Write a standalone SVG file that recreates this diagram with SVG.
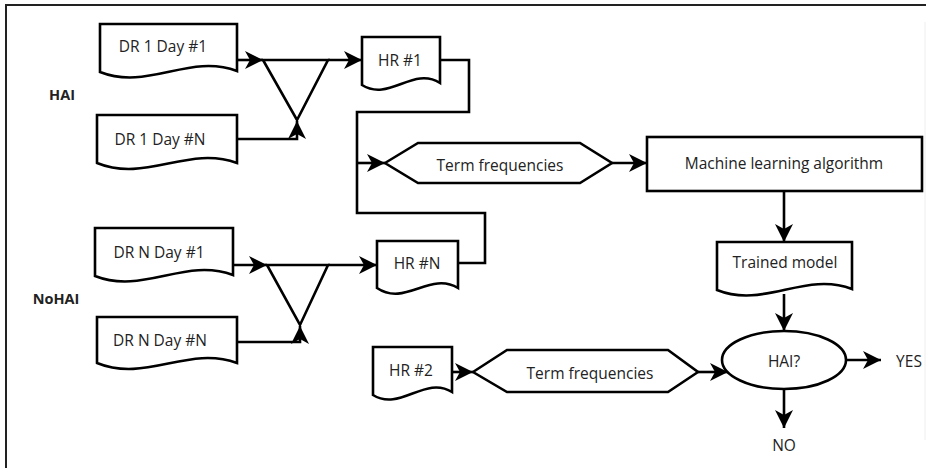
<svg xmlns="http://www.w3.org/2000/svg" width="946" height="468" viewBox="0 0 946 468">
<style>
.s{fill:#fff;stroke:#000;stroke-width:2.6;stroke-linejoin:miter}
.c{fill:none;stroke:#000;stroke-width:2.6}
.t{font-family:"Open Sans","Noto Sans",sans-serif;font-size:15.5px;fill:#222;text-anchor:middle;dominant-baseline:central}
.b{font-family:"Open Sans","Noto Sans",sans-serif;font-size:14.5px;font-weight:bold;fill:#222;text-anchor:middle;dominant-baseline:central}
</style>
<defs>
<marker id="ah" markerUnits="userSpaceOnUse" markerWidth="20" markerHeight="20" refX="18" refY="9" orient="auto" viewBox="0 0 20 18">
<path d="M0,0 L18,9 L0,18 L5,9 Z" fill="#000"/>
</marker>
</defs>
<rect x="0" y="0" width="946" height="468" fill="#fff"/>
<path d="M6,470 V5 H926" fill="none" stroke="#222" stroke-width="2"/>
<line x1="925" y1="22" x2="925" y2="440" stroke="#eee" stroke-width="1"/>

<g id="label-hai"><text class="b" x="62" y="94">HAI</text></g>
<g id="label-nohai"><text class="b" x="56" y="298">NoHAI</text></g>

<g id="connectors">
<line class="c" x1="237" y1="60" x2="263" y2="60" marker-end="url(#ah)"/>
<line class="c" x1="328" y1="60" x2="362" y2="60" marker-end="url(#ah)"/>
<path class="c" d="M237,139 H297 V121" marker-end="url(#ah)"/>
<path class="c" d="M440,60 H469 V112 H357 V163"/>
<path class="c" d="M458,263 H485 V213 H357 V163"/>
<line class="c" x1="356" y1="163" x2="385" y2="163" marker-end="url(#ah)"/>
<line class="c" x1="233" y1="265" x2="267" y2="265" marker-end="url(#ah)"/>
<line class="c" x1="328" y1="265" x2="377" y2="265" marker-end="url(#ah)"/>
<path class="c" d="M237,342 H300 V326" marker-end="url(#ah)"/>
<line class="c" x1="612" y1="163" x2="647" y2="163" marker-end="url(#ah)"/>
<line class="c" x1="784" y1="191" x2="784" y2="242" marker-end="url(#ah)"/>
<line class="c" x1="784" y1="294" x2="784" y2="331" marker-end="url(#ah)"/>
<line class="c" x1="452" y1="372" x2="473" y2="372" marker-end="url(#ah)"/>
<line class="c" x1="698" y1="372" x2="728" y2="372" marker-end="url(#ah)"/>
<line class="c" x1="846" y1="360" x2="881" y2="360" marker-end="url(#ah)"/>
<line class="c" x1="784" y1="389" x2="784" y2="428" marker-end="url(#ah)"/>
</g>

<g id="dr1-day1">
<path class="s" d="M100,24 H237 V71 C189,53 148,91 100,72 Z"/>
<text class="t" x="163" y="46">DR 1 Day #1</text>
</g>
<g id="dr1-dayn">
<path class="s" d="M97,115 H237 V163 C188,145 146,183 97,163 Z"/>
<text class="t" x="160" y="139">DR 1 Day #N</text>
</g>
<g id="merge1">
<polygon class="s" points="263,60 328,60 297,120" style="fill:none"/>
</g>
<g id="hr1">
<path class="s" d="M362,37 H440 V83 C413,66 389,102 362,85 Z"/>
<text class="t" x="400" y="60">HR #1</text>
</g>
<g id="hex1">
<polygon class="s" points="385,163 418,143 580,143 612,163 580,183 418,183"/>
<text class="t" x="500" y="165">Term frequencies</text>
</g>
<g id="ml">
<rect class="s" x="647" y="137" width="275" height="54"/>
<text class="t" x="784" y="163">Machine learning algorithm</text>
</g>
<g id="trained">
<path class="s" d="M717,242 H852 V289 C805,271 764,309 717,290 Z"/>
<text class="t" x="785" y="262">Trained model</text>
</g>
<g id="drn-day1">
<path class="s" d="M95,228 H233 V275 C185,257 143,295 95,276 Z"/>
<text class="t" x="159" y="252">DR N Day #1</text>
</g>
<g id="drn-dayn">
<path class="s" d="M97,317 H237 V363 C188,345 146,383 97,363 Z"/>
<text class="t" x="160" y="340">DR N Day #N</text>
</g>
<g id="merge2">
<polygon class="s" points="267,265 328,265 300,325" style="fill:none"/>
</g>
<g id="hrn">
<path class="s" d="M377,241 H458 V288 C430,271 405,307 377,288 Z"/>
<text class="t" x="417" y="263">HR #N</text>
</g>
<g id="hr2">
<path class="s" d="M373,347 H452 V392 C425,375 400,412 373,395 Z"/>
<text class="t" x="411" y="370">HR #2</text>
</g>
<g id="hex2">
<polygon class="s" points="473,372 507,350 668,350 698,372 668,392 507,392"/>
<text class="t" x="590" y="373">Term frequencies</text>
</g>
<g id="decision">
<ellipse class="s" cx="784" cy="360" rx="62" ry="29"/>
<text class="t" x="784" y="361">HAI?</text>
</g>
<g id="yes"><text class="t" x="909" y="361">YES</text></g>
<g id="no"><text class="t" x="784" y="445">NO</text></g>
</svg>
